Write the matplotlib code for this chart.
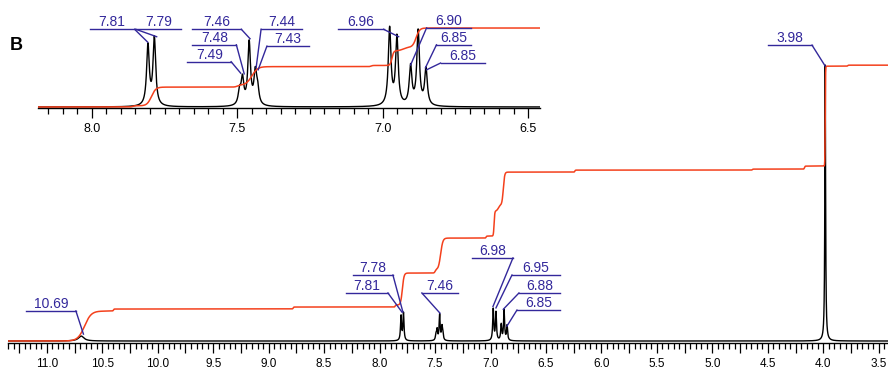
"""
1H NMR spectrum (panel B) with integral curve and an expanded aromatic inset.
"""

import numpy as np
import matplotlib
matplotlib.use('Agg')
import matplotlib.pyplot as plt
from matplotlib.ticker import MultipleLocator, FuncFormatter

plt.rcParams['font.family'] = ['Liberation Sans', 'DejaVu Sans']

# peak list: shift (ppm), height (3.98 singlet = 100), half-width (ppm)
PEAK_PPM = [10.69, 7.807, 7.785, 7.492, 7.482, 7.459, 7.438, 7.430,
            6.976, 6.951, 6.904, 6.878, 6.851, 3.983]
PEAK_HEIGHT = [1.8, 8.9, 10.0, 2.0, 3.8, 9.3, 4.6, 2.2,
               11.4, 10.1, 5.7, 11.0, 5.4, 100.0]
PEAK_WIDTH = [0.03, 0.0055, 0.0055, 0.0055, 0.0055, 0.0055, 0.0055, 0.0055,
              0.0055, 0.0055, 0.0055, 0.0055, 0.0055, 0.004]

# integral steps: centre (ppm), rise (proton units), width (ppm)
INT_PPM = [10.66, 10.40, 8.78, 7.86, 7.795, 7.50, 7.45, 7.04,
           6.968, 6.93, 6.885, 6.24, 4.64, 4.17, 3.983, 3.78]
INT_RISE = [0.90, 0.06, 0.06, 0.06, 0.96, 0.09, 0.96, 0.06,
            0.75, 0.18, 0.99, 0.06, 0.03, 0.09, 3.00, 0.03]
INT_WIDTH = [0.06, 0.005, 0.005, 0.005, 0.015, 0.008, 0.02, 0.005,
             0.006, 0.015, 0.012, 0.005, 0.005, 0.005, 0.003, 0.005]

# peak labels: text, line start/end (ppm), line height, leader end ('l'/'r'), target (ppm, height)
MAIN_LABELS = [
    ('10.69', 11.189, 10.738, 10.9, 'r', 10.67, 2.5),
    ('7.78', 8.241, 7.880, 23.9, 'r', 7.790, 10.5),
    ('7.81', 8.304, 7.925, 17.4, 'r', 7.799, 10.5),
    ('7.46', 7.619, 7.294, 17.4, 'l', 7.456, 10.1),
    ('6.98', 7.168, 6.798, 30.1, 'r', 6.978, 12.5),
    ('6.95', 6.807, 6.374, 23.9, 'l', 6.951, 12.0),
    ('6.88', 6.744, 6.374, 17.4, 'l', 6.885, 11.5),
    ('6.85', 6.762, 6.374, 11.2, 'l', 6.852, 5.4),
    ('3.98', 4.499, 4.102, 107.2, 'r', 3.983, 99.6),
]
INSET_LABELS = [
    ('7.81', 8.007, 7.853, 11.5, 'r', 7.808, 9.6),
    ('7.79', 7.849, 7.692, 11.5, 'l', 7.777, 10.4),
    ('7.46', 7.654, 7.486, 11.5, 'r', 7.456, 10.1),
    ('7.48', 7.654, 7.503, 9.2, 'r', 7.476, 4.9),
    ('7.49', 7.671, 7.521, 6.7, 'r', 7.488, 5.0),
    ('7.44', 7.418, 7.278, 11.5, 'l', 7.435, 5.8),
    ('7.43', 7.398, 7.253, 9.0, 'l', 7.428, 5.5),
    ('6.96', 7.154, 6.997, 11.5, 'r', 6.945, 10.4),
    ('6.90', 6.849, 6.695, 11.7, 'l', 6.904, 6.2),
    ('6.85', 6.815, 6.695, 9.2, 'l', 6.853, 5.8),
    ('6.85', 6.801, 6.647, 6.5, 'l', 6.849, 5.5),
]

BLACK = '#000000'
RED = '#f4401c'
LABEL_COLOR = '#33289b'


def spectrum(ppm):
    y = np.zeros_like(ppm)
    for c, h, w in zip(PEAK_PPM, PEAK_HEIGHT, PEAK_WIDTH):
        y += h / (1 + ((ppm - c) / w) ** 2)
    return y


def integral(ppm):
    y = np.zeros_like(ppm)
    for c, r, w in zip(INT_PPM, INT_RISE, INT_WIDTH):
        y += r * 0.5 * (1 + np.tanh((c - ppm) / w))
    return y


def style_axis(ax, major, minor, major_len, minor_len, labelsize, pad):
    for side in ['top', 'left', 'right']:
        ax.spines[side].set_visible(False)
    ax.spines['bottom'].set_linewidth(1.0)
    ax.set_yticks([])
    ax.patch.set_alpha(0)
    ax.xaxis.set_major_locator(MultipleLocator(major))
    ax.xaxis.set_minor_locator(MultipleLocator(minor))
    ax.tick_params(axis='x', which='major', length=major_len, width=0.9,
                   labelsize=labelsize, pad=pad)
    ax.tick_params(axis='x', which='minor', length=minor_len, width=0.9)


def draw_labels(ax, labels):
    for text, x0, x1, y, end, tx, ty in labels:
        xa = x0 if end == 'l' else x1
        ax.plot([x0, x1], [y, y], color=LABEL_COLOR, lw=1.0, clip_on=False, zorder=5)
        ax.plot([xa, tx], [y, ty], color=LABEL_COLOR, lw=1.0, clip_on=False, zorder=5)
        ax.annotate(text, xy=((x0 + x1) / 2, y), xytext=(0, 3),
                    textcoords='offset pixels', ha='center', va='baseline',
                    fontsize=10, color=LABEL_COLOR, annotation_clip=False, zorder=6)


fig = plt.figure(figsize=(8.88, 3.74), dpi=100)

# main spectrum
ax = fig.add_axes([8 / 888, 31 / 374, 880 / 888, 343 / 374])
ppm = np.linspace(11.4, 3.38, 80000)
ax.plot(ppm, spectrum(ppm), color=BLACK, lw=1.0, zorder=2)
ax.plot(ppm, integral(ppm) * 12.07, color=RED, lw=1.1, zorder=3)
ax.set_xlim(11.35, 3.417)
ax.set_ylim(-0.72, 123.55)
style_axis(ax, 0.25, 0.05, 7, 4, 8.5, 4)
ax.xaxis.set_major_formatter(FuncFormatter(
    lambda v, p: f'{v:.1f}' if abs(v * 2 - round(v * 2)) < 1e-6 else ''))
draw_labels(ax, MAIN_LABELS)

# expanded inset
axi = fig.add_axes([38 / 888, 266 / 374, 502 / 888, 108 / 374])
ppm_i = np.linspace(8.2, 6.44, 40000)
axi.plot(ppm_i, spectrum(ppm_i), color=BLACK, lw=1.0, zorder=2)
axi.plot(ppm_i, (integral(ppm_i) - integral(np.array([8.185]))[0]) * 2.885,
         color=RED, lw=1.1, zorder=3)
axi.set_xlim(8.185, 6.459)
axi.set_ylim(-0.15, 15.83)
style_axis(axi, 0.5, 0.05, 7, 4, 9, 4)
axi.xaxis.set_major_formatter(FuncFormatter(lambda v, p: f'{v:.1f}'))
draw_labels(axi, INSET_LABELS)

fig.text(10 / 888, 1 - 45 / 374, 'B', fontsize=13, fontweight='bold',
         ha='left', va='center')

fig.savefig('out.png', dpi=100)
